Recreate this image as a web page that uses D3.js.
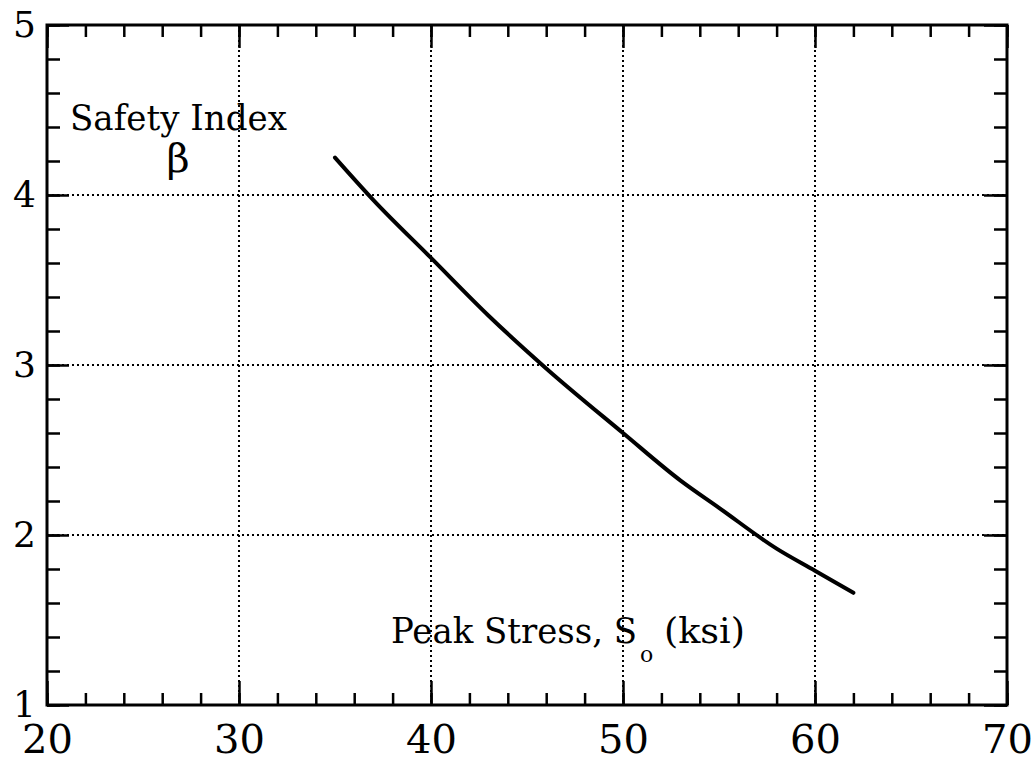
<!DOCTYPE html>
<html>
<head>
<meta charset="utf-8">
<script src="https://cdn.jsdelivr.net/npm/d3@7"></script>
<style>
  body { margin: 0; background: #fff; }
</style>
</head>
<body>
<svg id="chart" width="1035" height="762"></svg>
<script>
// Data
const peakStress = [35, 37, 40, 43, 46, 50, 53, 55, 58, 60, 62];
const safetyIndex = [4.22, 3.97, 3.63, 3.29, 2.98, 2.60, 2.32, 2.16, 1.92, 1.79, 1.66];
const xTickLabels = [20, 30, 40, 50, 60, 70];
const yTickLabels = [1, 2, 3, 4, 5];
const xGrid = [30, 40, 50, 60];
const yGrid = [2, 3, 4];

const FONT = "'DejaVu Serif', 'Liberation Serif', serif";
const svg = d3.select("#chart");
const L = 47, R = 1007, T = 25, B = 705;
const x = d3.scaleLinear().domain([20, 70]).range([L, R]);
const y = d3.scaleLinear().domain([1, 5]).range([B, T]);

// grid lines (dotted)
const grid = svg.append("g").attr("stroke", "#000").attr("stroke-width", 2).attr("stroke-dasharray", "2,3");
grid.selectAll(".gx").data(xGrid).enter().append("line")
  .attr("x1", d => x(d)).attr("x2", d => x(d)).attr("y1", T).attr("y2", B);
grid.selectAll(".gy").data(yGrid).enter().append("line")
  .attr("y1", d => y(d)).attr("y2", d => y(d)).attr("x1", L).attr("x2", R);

// axes with inward ticks
const xMinor = d3.range(20, 70.001, 2);
const yMinor = d3.range(1, 5.001, 0.2);
function styleAxis(g) {
  g.select(".domain").remove();
  g.attr("font-family", FONT);
  g.selectAll("line").attr("stroke", "#000").attr("stroke-width", 2.5);
}
svg.append("g").attr("transform", `translate(0,${B})`)
  .call(d3.axisBottom(x).tickValues(xMinor).tickSizeInner(-12).tickSizeOuter(0).tickFormat(""))
  .call(styleAxis);
svg.append("g").attr("transform", `translate(0,${B})`)
  .call(d3.axisBottom(x).tickValues(xTickLabels).tickSizeInner(-24).tickSizeOuter(0).tickPadding(20).tickFormat(d3.format("d")))
  .call(styleAxis)
  .call(g => g.selectAll("text").attr("font-size", 40));
svg.append("g").attr("transform", `translate(0,${T})`)
  .call(d3.axisTop(x).tickValues(xMinor).tickSizeInner(-12).tickSizeOuter(0).tickFormat(""))
  .call(styleAxis);
svg.append("g").attr("transform", `translate(0,${T})`)
  .call(d3.axisTop(x).tickValues(xTickLabels).tickSizeInner(-23).tickSizeOuter(0).tickFormat(""))
  .call(styleAxis);
svg.append("g").attr("transform", `translate(${L},0)`)
  .call(d3.axisLeft(y).tickValues(yMinor).tickSizeInner(-13).tickSizeOuter(0).tickFormat(""))
  .call(styleAxis);
svg.append("g").attr("transform", `translate(${L},0)`)
  .call(d3.axisLeft(y).tickValues(yTickLabels).tickSizeInner(-22).tickSizeOuter(0).tickPadding(11).tickFormat(d3.format("d")))
  .call(styleAxis)
  .call(g => g.selectAll("text").attr("font-size", 36));
svg.append("g").attr("transform", `translate(${R},0)`)
  .call(d3.axisRight(y).tickValues(yMinor).tickSizeInner(-13).tickSizeOuter(0).tickFormat(""))
  .call(styleAxis);
svg.append("g").attr("transform", `translate(${R},0)`)
  .call(d3.axisRight(y).tickValues(yTickLabels).tickSizeInner(-23).tickSizeOuter(0).tickFormat(""))
  .call(styleAxis);

// frame
svg.append("rect").attr("x", L).attr("y", T).attr("width", R - L).attr("height", B - T)
  .attr("fill", "none").attr("stroke", "#000").attr("stroke-width", 3);

// curve
const pts = peakStress.map((d, i) => [d, safetyIndex[i]]);
svg.append("path").datum(pts)
  .attr("fill", "none").attr("stroke", "#000").attr("stroke-width", 4).attr("stroke-linecap", "round")
  .attr("d", d3.line().x(d => x(d[0])).y(d => y(d[1])).curve(d3.curveMonotoneX));

// labels
svg.append("text").attr("x", 70).attr("y", 130).attr("font-size", 36).attr("font-family", FONT)
  .attr("textLength", 217).attr("lengthAdjust", "spacingAndGlyphs").text("Safety Index");
svg.append("text").attr("x", 178).attr("y", 172).attr("font-size", 40).attr("font-family", FONT).attr("text-anchor", "middle").text("β");
svg.append("text").attr("x", 391).attr("y", 643).attr("font-size", 36).attr("font-family", FONT)
  .attr("textLength", 246).attr("lengthAdjust", "spacingAndGlyphs").text("Peak Stress, S");
svg.append("text").attr("x", 640).attr("y", 662).attr("font-size", 22).attr("font-family", FONT).text("o");
svg.append("text").attr("x", 664).attr("y", 643).attr("font-size", 36).attr("font-family", FONT)
  .attr("textLength", 81).attr("lengthAdjust", "spacingAndGlyphs").text("(ksi)");
</script>
</body>
</html>
